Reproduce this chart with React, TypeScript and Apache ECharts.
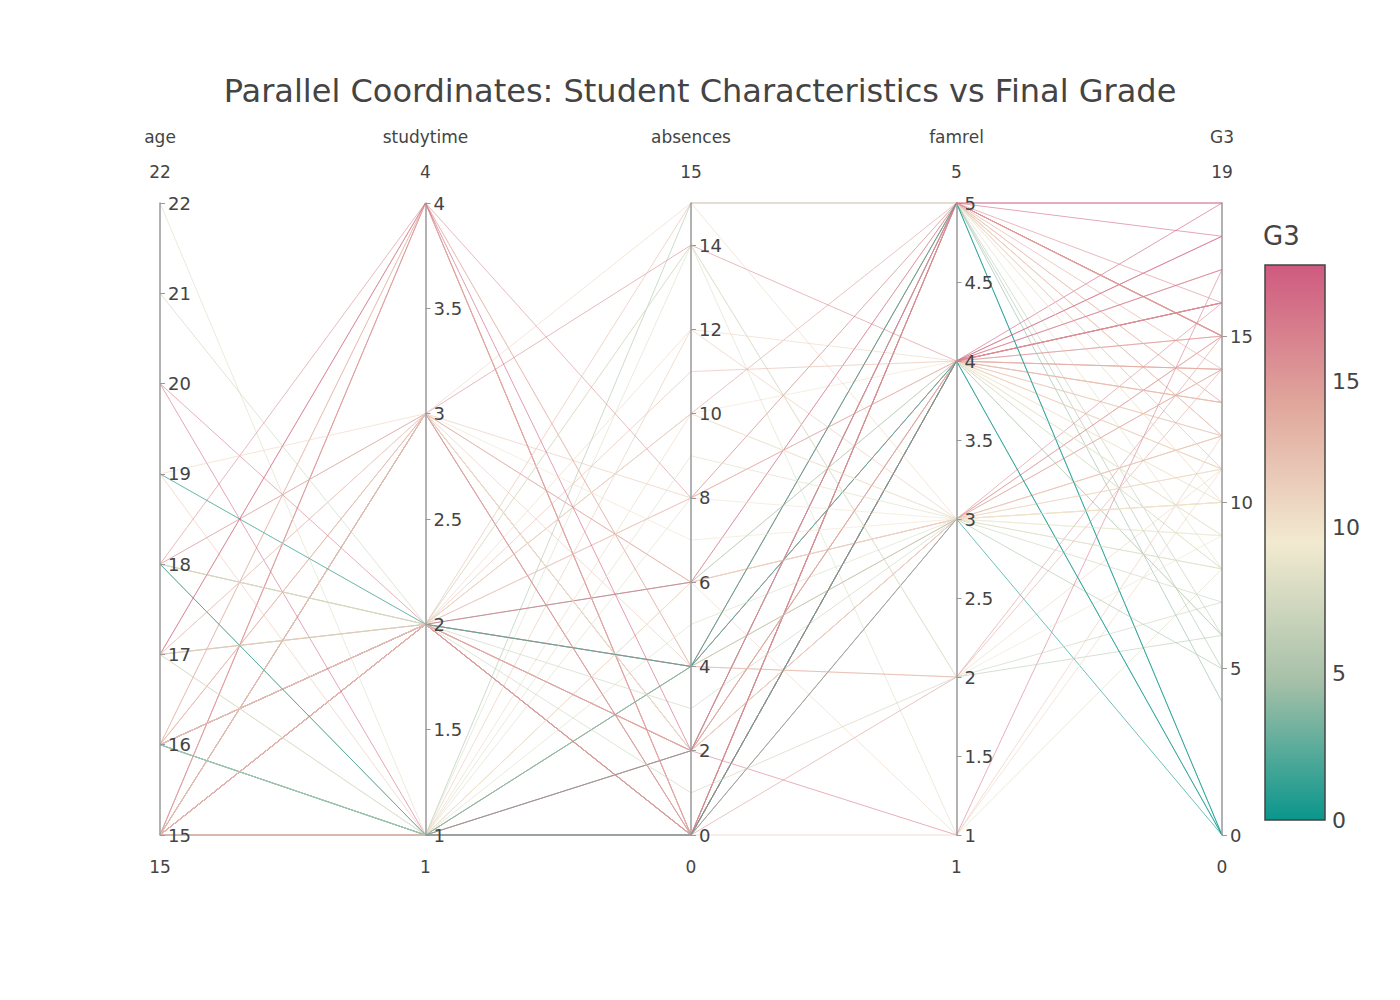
import { useEffect, useRef } from 'react';
import * as echarts from 'echarts';

const dims = ['age', 'studytime', 'absences', 'famrel', 'G3'];
const mins = [15, 1, 0, 1, 0];
const maxs = [22, 4, 15, 5, 19];
const intervals = [1, 0.5, 2, 0.5, 5];

// rows: age, studytime, absences, famrel, G3
const students = [
  [18, 2, 6, 4, 6], [17, 2, 4, 5, 6], [15, 2, 10, 4, 10], [15, 3, 2, 3, 15], [16, 2, 4, 4, 10],
  [16, 2, 10, 5, 15], [16, 2, 0, 4, 11], [17, 2, 6, 4, 6], [15, 2, 0, 4, 19], [15, 2, 0, 5, 15],
  [15, 2, 0, 3, 9], [15, 3, 4, 5, 12], [15, 1, 2, 4, 14], [15, 2, 2, 5, 11], [15, 3, 0, 4, 16],
  [16, 1, 4, 4, 14], [16, 3, 6, 3, 14], [16, 2, 4, 5, 10], [17, 1, 15, 5, 5], [16, 1, 4, 3, 10],
  [15, 2, 0, 4, 15], [15, 1, 0, 5, 15], [16, 2, 2, 4, 16], [16, 2, 0, 5, 12], [15, 3, 2, 4, 8],
  [16, 1, 14, 1, 8], [15, 1, 2, 4, 11], [15, 1, 4, 2, 11], [16, 1, 4, 5, 12], [16, 2, 8, 4, 17],
  [15, 2, 0, 5, 4], [15, 2, 0, 4, 18], [15, 4, 0, 4, 16], [15, 1, 0, 5, 15], [16, 1, 0, 3, 0],
  [15, 2, 2, 5, 11], [15, 3, 2, 3, 15], [15, 2, 0, 5, 13], [15, 3, 8, 4, 12], [15, 1, 12, 3, 12],
  [16, 2, 4, 4, 13], [15, 1, 2, 5, 0], [15, 4, 0, 4, 15], [15, 1, 2, 1, 17], [16, 2, 14, 2, 6],
  [15, 1, 8, 5, 8], [16, 2, 12, 4, 11], [16, 4, 4, 3, 12], [15, 2, 2, 5, 15], [15, 2, 2, 3, 12],
  [16, 2, 2, 5, 15], [15, 2, 0, 4, 13], [15, 1, 6, 5, 11], [15, 1, 0, 4, 12], [15, 1, 0, 5, 14],
  [16, 2, 2, 4, 9], [15, 2, 0, 3, 16], [15, 4, 0, 2, 15], [15, 2, 4, 4, 18], [16, 2, 6, 5, 19],
  [16, 4, 4, 2, 14], [16, 1, 6, 1, 11], [16, 2, 4, 4, 9], [16, 3, 2, 3, 10], [15, 3, 0, 4, 16],
  [16, 3, 6, 3, 14], [15, 2, 4, 5, 15], [15, 3, 0, 4, 8], [16, 1, 4, 4, 0], [15, 2, 2, 5, 10],
  [17, 2, 14, 2, 9], [18, 1, 10, 3, 11], [19, 2, 8, 3, 10], [20, 1, 0, 5, 18], [21, 2, 3, 3, 7],
  [22, 1, 5, 3, 8], [18, 3, 2, 4, 9], [17, 4, 0, 4, 14], [18, 3, 14, 4, 16], [19, 1, 0, 1, 12],
  [18, 4, 8, 5, 16], [17, 1, 6, 3, 10], [18, 2, 11, 4, 13], [19, 2, 4, 5, 0], [18, 1, 4, 3, 5],
  [17, 3, 0, 4, 16], [18, 2, 10, 3, 9], [20, 2, 2, 4, 17], [19, 3, 15, 3, 11], [17, 4, 2, 5, 19],
  [18, 1, 0, 4, 0], [17, 2, 15, 5, 13], [16, 1, 9, 3, 8], [18, 2, 1, 2, 7], [17, 3, 7, 3, 10],
];

const colorStops = ['#0a968c', '#a6c0a8', '#f2ead0', '#e0a69c', '#cf5a80'];
const barTicks = [0, 5, 10, 15];

export default function App() {
  const ref = useRef<HTMLDivElement>(null);

  useEffect(() => {
    if (!ref.current) return;
    document.body.style.margin = '0';
    const chart = echarts.init(ref.current, null, { renderer: 'svg' });
    const font = '"DejaVu Sans", Verdana, sans-serif';
    const left = 160, right = 1222, top = 203, bottom = 835;
    const axisX = dims.map((_, i) => left + (i * (right - left)) / 4);
    const barTop = 265, barBottom = 820;

    const graphics: any[] = [];
    dims.forEach((d, i) => {
      graphics.push({ type: 'text', x: axisX[i], y: 172, style: { text: String(maxs[i]), font: `17px ${font}`, fill: '#444', align: 'center', verticalAlign: 'middle' } });
      graphics.push({ type: 'text', x: axisX[i], y: 867, style: { text: String(mins[i]), font: `17px ${font}`, fill: '#444', align: 'center', verticalAlign: 'middle' } });
    });
    graphics.push({
      type: 'rect', shape: { x: 1265, y: barTop, width: 60, height: barBottom - barTop },
      style: {
        stroke: '#444', lineWidth: 1.5,
        fill: new echarts.graphic.LinearGradient(0, 1, 0, 0, colorStops.map((c, i) => ({ offset: i / (colorStops.length - 1), color: c }))),
      },
    });
    barTicks.forEach((t) => {
      graphics.push({ type: 'text', x: 1332, y: barBottom - ((barBottom - barTop) * t) / 19, style: { text: String(t), font: `22px ${font}`, fill: '#444', verticalAlign: 'middle' } });
    });
    graphics.push({ type: 'text', x: 1263, y: 236, style: { text: 'G3', font: `26px ${font}`, fill: '#444', verticalAlign: 'middle' } });

    chart.setOption({
      animation: false,
      title: {
        text: 'Parallel Coordinates: Student Characteristics vs Final Grade',
        left: 'center', top: 70,
        textStyle: { fontFamily: font, fontSize: 32, fontWeight: 'normal', color: '#444' },
      },
      parallel: { left, right: 1400 - right, top, bottom: 1000 - bottom, layout: 'horizontal' },
      parallelAxis: dims.map((d, i) => ({
        dim: i, name: d, min: mins[i], max: maxs[i], interval: intervals[i],
        nameLocation: 'end', nameGap: 58,
        nameTextStyle: { fontFamily: font, fontSize: 17, color: '#444' },
        axisLine: { lineStyle: { color: '#999', width: 1.5 } },
        axisTick: { length: 5, inside: true, lineStyle: { color: '#999' } },
        axisLabel: { inside: true, fontFamily: font, fontSize: 18, color: '#444', showMaxLabel: d !== 'absences' && d !== 'G3' },
        splitLine: { show: false },
      })),
      visualMap: {
        show: false, type: 'continuous', dimension: 4, min: 0, max: 19,
        inRange: { color: colorStops },
      },
      graphic: graphics,
      series: [{
        type: 'parallel',
        lineStyle: { width: 0.8, opacity: 0.75 },
        data: students,
      }],
    });
    return () => chart.dispose();
  }, []);

  return <div ref={ref} style={{ width: 1400, height: 1000 }} />;
}
